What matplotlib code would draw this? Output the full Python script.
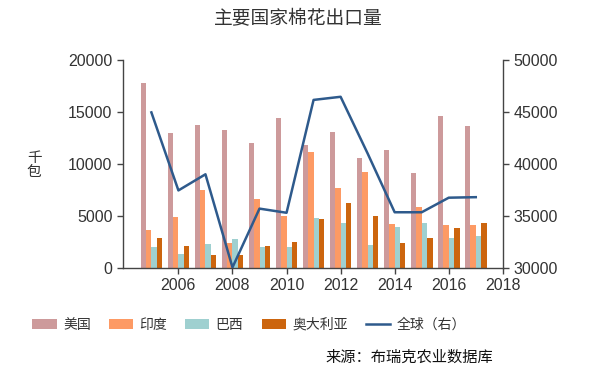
import numpy as np
import matplotlib
matplotlib.use("Agg")
import matplotlib.pyplot as plt
from matplotlib.patches import Patch
from matplotlib.lines import Line2D

plt.rcParams['font.family'] = ['Noto Sans CJK SC', 'DejaVu Sans']

# data (thousand bales)
years = np.arange(2005, 2018)
usa = [17800, 12950, 13700, 13300, 12050, 14450, 11800, 13050, 10550, 11300, 9100, 14600, 13600]
india = [3650, 4930, 7500, 2400, 6600, 5000, 11100, 7700, 9250, 4200, 5850, 4150, 4150]
brazil = [2000, 1350, 2280, 2800, 2000, 2000, 4780, 4300, 2200, 3900, 4300, 2900, 3100]
australia = [2900, 2150, 1250, 1200, 2150, 2500, 4700, 6200, 4950, 2400, 2900, 3800, 4300]
world = [44950, 37450, 39000, 30050, 35700, 35300, 46150, 46450, 41000, 35350, 35350, 36750, 36800]

names = ['美国', '印度', '巴西', '奥大利亚']
colors = ['#cd9a9b', '#fd9a64', '#9fd0d0', '#cc650e']
line_color = '#2e5a8c'
text_color = '#333333'
num_font = 'Liberation Sans'

fig = plt.figure(figsize=(6, 3.65), dpi=100)
ax = fig.add_axes([0.205, 0.266, 0.633, 0.57])

width = 0.2
offsets = [-0.3, -0.1, 0.1, 0.3]
for series, off, c in zip([usa, india, brazil, australia], offsets, colors):
    ax.bar(years + off, series, width=width, color=c, linewidth=0)

ax.set_ylim(0, 20000)
ax.set_yticks(np.arange(0, 20001, 5000))
ax.set_xlim(2003.95, 2018)
ax.set_xticks(np.arange(2006, 2019, 2))

ax2 = ax.twinx()
ax2.plot(years, world, color=line_color, lw=1.8)
ax2.set_ylim(30000, 50000)
ax2.set_yticks(np.arange(30000, 50001, 5000))

for a in (ax, ax2):
    a.spines['top'].set_visible(False)
    for s in ('left', 'right', 'bottom'):
        a.spines[s].set_color('#444444')
        a.spines[s].set_linewidth(1.0)
    a.tick_params(colors='#444444', labelcolor=text_color, length=4, width=1.0,
                  labelsize=11.5)
    for lab in a.get_xticklabels() + a.get_yticklabels():
        lab.set_fontfamily(num_font)
ax.spines['right'].set_visible(False)
ax2.spines['left'].set_visible(False)
ax2.spines['bottom'].set_visible(False)

fig.text(0.497, 0.95, '主要国家棉花出口量', ha='center', va='center',
         fontsize=13.5, color=text_color)
fig.text(0.057, 0.548, '千\n包', ha='center', va='center', fontsize=10.5,
         color=text_color, linespacing=1.0)

handles = [Patch(facecolor=c, edgecolor='none') for c in colors]
handles.append(Line2D([], [], color=line_color, lw=1.8))
labels = names + ['全球（右）']
fig.legend(handles, labels, loc='center', bbox_to_anchor=(0.415, 0.11),
           ncol=5, frameon=False, fontsize=10, handlelength=1.75,
           handleheight=0.7, handletextpad=0.45, columnspacing=1.3,
           labelcolor=text_color)

fig.text(0.543, 0.02, '来源：布瑞克农业数据库', ha='left', va='center',
         fontsize=11, color='#111111')

fig.savefig('out.png', dpi=100)
